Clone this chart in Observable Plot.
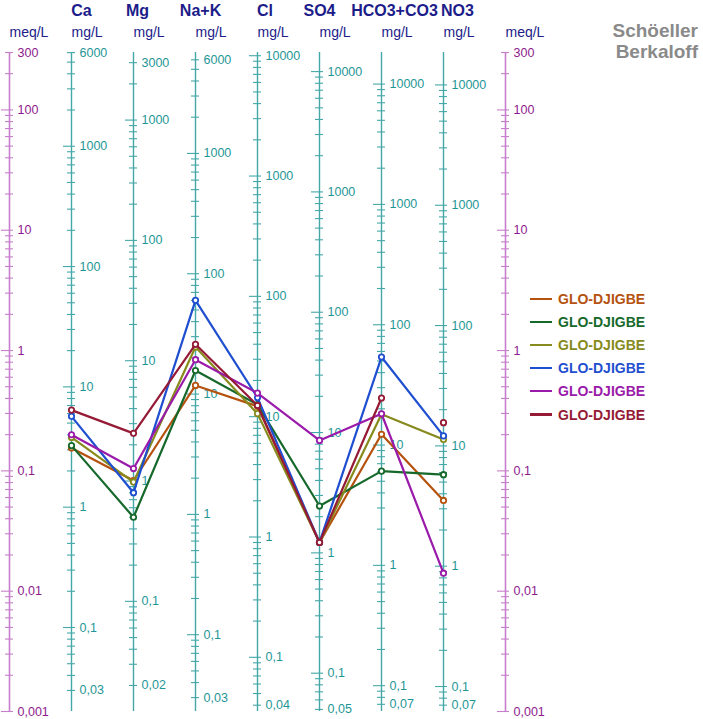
<!DOCTYPE html>
<html>
<head>
<meta charset="utf-8">
<script src="https://cdn.jsdelivr.net/npm/d3@7"></script>
<script src="https://cdn.jsdelivr.net/npm/@observablehq/plot@0.6"></script>
<style>
  html, body { margin: 0; padding: 0; background: #fff; }
  #wrap { position: relative; width: 703px; height: 719px; font-family: "Liberation Sans", Arial, sans-serif; }
  #wrap svg { display: block; }
  #title { position: absolute; right: 5px; top: 20px; text-align: right; color: #8a8a8a; font-weight: bold; font-size: 19px; line-height: 21px; }
  #legend { position: absolute; left: 530px; top: 287px; }
  .row { height: 23.2px; display: flex; align-items: center; }
  .sw { width: 22px; height: 2.2px; margin-right: 6px; }
  .lab { font-weight: bold; font-size: 14px; }
</style>
</head>
<body>
<div id="wrap"></div>
<script>
// ---------- data ----------
const ions = ["Ca", "Mg", "Na+K", "Cl", "SO4", "HCO3+CO3", "NO3"];
const eqWeights = [20.04, 12.15, 23.0, 35.45, 48.03, 61.02, 62.0];
const topLabels = [6000, 3000, 6000, 10000, 10000, 10000, 10000];
const bottomLabels = [0.03, 0.02, 0.03, 0.04, 0.05, 0.07, 0.07];
const meqLabels = [300, 100, 10, 1, 0.1, 0.01, 0.001];
const seriesNames = ["GLO-DJIGBE", "GLO-DJIGBE", "GLO-DJIGBE", "GLO-DJIGBE", "GLO-DJIGBE", "GLO-DJIGBE"];
const seriesColors = ["#b5520f", "#17692b", "#878a1c", "#1f4fd0", "#9a1aaa", "#951a35"];
// concentrations in mg/L, order of ions
const s1 = [3.1, 1.01, 11.8, 12.2, 1.22, 12.3, 3.52];
const s2 = [3.25, 0.50, 15.7, 12.6, 2.45, 6.07, 5.76];
const s3 = [3.8, 0.98, 24.6, 10.6, 1.22, 18.0, 11.3];
const s4 = [5.69, 0.80, 60.1, 14.4, 1.22, 53.9, 12.1];
const s5 = [4.0, 1.27, 19.3, 15.7, 8.6, 18.2, 0.875];
const s6 = [6.41, 2.49, 25.9, 12.4, 1.22, 24.6, 15.6];
const seriesValues = [s1, s2, s3, s4, s5, s6];
// points drawn without a connecting segment [series index, ion]
const unlinkedPoints = [[5, "NO3"]];

// ---------- derived ----------
const axisKeys = ["meqL", ...ions, "meqR"];
const MEQ_MIN = 0.001, MEQ_MAX = 300;
const fmt = v => String(+v.toPrecision(3)).replace(".", ",");

const ionTicks = [], ionLabels = [];
ions.forEach((ion, i) => {
  const eq = eqWeights[i];
  for (let k = -3; k <= 5; k++) for (let m = 1; m <= 9; m++) {
    const v = m * Math.pow(10, k), meq = v / eq;
    if (meq >= MEQ_MIN && meq <= MEQ_MAX * 1.001) ionTicks.push({key: ion, meq, major: m === 1});
  }
  const labs = new Set([topLabels[i], bottomLabels[i]]);
  for (let k = -3; k <= 5; k++) {
    const v = Math.pow(10, k), meq = v / eq;
    if (meq >= MEQ_MIN && meq <= MEQ_MAX) labs.add(v);
  }
  for (const v of labs) ionLabels.push({key: ion, meq: v / eq, text: fmt(v)});
});
const meqTicks = [], meqLabelData = [];
for (const key of ["meqL", "meqR"]) {
  for (let k = -3; k <= 2; k++) for (let m = 1; m <= 9; m++) {
    const v = m * Math.pow(10, k);
    if (v >= MEQ_MIN && v <= MEQ_MAX) meqTicks.push({key, meq: v, major: m === 1});
  }
  for (const v of meqLabels) meqLabelData.push({key, meq: v, text: fmt(v)});
}

const points = [];
seriesValues.forEach((vals, s) => vals.forEach((mg, i) => {
  points.push({s, ion: ions[i], meq: mg / eqWeights[i],
    linked: !unlinkedPoints.some(([ss, ion]) => ss === s && ion === ions[i])});
}));

const teal = "#45a8a8", tealText = "#1f9696", purpleLine = "#c77fc9", purpleText = "#8e1a8e", navy = "#1c1c8a";
const headerDx = {"Ca": 10, "Mg": 4, "Na+K": 5, "Cl": 7.5, "SO4": 0, "HCO3+CO3": 13, "NO3": 14};

const marks = [
  // axes
  Plot.ruleX(ions, {x: d => d, y1: MEQ_MIN, y2: MEQ_MAX, stroke: teal, strokeWidth: 1.4}),
  Plot.ruleX(["meqL", "meqR"], {x: d => d, y1: MEQ_MIN, y2: MEQ_MAX, stroke: purpleLine, strokeWidth: 1.6}),
  Plot.ruleY(ionTicks.filter(d => d.major), {y: "meq", x1: "key", x2: "key", stroke: teal, strokeWidth: 1.1, insetLeft: -8, insetRight: -4}),
  Plot.ruleY(ionTicks.filter(d => !d.major), {y: "meq", x1: "key", x2: "key", stroke: teal, strokeWidth: 1.1, insetLeft: -4, insetRight: -4}),
  Plot.ruleY(meqTicks.filter(d => d.major), {y: "meq", x1: "key", x2: "key", stroke: purpleLine, strokeWidth: 1.1, insetLeft: -8, insetRight: -4}),
  Plot.ruleY(meqTicks.filter(d => !d.major), {y: "meq", x1: "key", x2: "key", stroke: purpleLine, strokeWidth: 1.1, insetLeft: -4, insetRight: -4}),
  Plot.text(ionLabels, {x: "key", y: "meq", text: "text", textAnchor: "start", dx: 8, fill: tealText, fontSize: 12.5}),
  Plot.text(meqLabelData, {x: "key", y: "meq", text: "text", textAnchor: "start", dx: 8, fill: purpleText, fontSize: 12.5}),
  // unit headers
  Plot.text(axisKeys, {x: d => d, y: () => MEQ_MAX, text: d => d.startsWith("meq") ? "meq/L" : "mg/L",
    textAnchor: "start", dy: -15.5, lineAnchor: "bottom", fontSize: 14, fill: navy}),
  // ion name headers
  ...ions.map(ion => Plot.text([ion], {x: d => d, y: () => MEQ_MAX, text: d => d, dx: headerDx[ion], dy: -36.5,
    lineAnchor: "bottom", fontWeight: "bold", fontSize: 16, fill: navy}))
];
seriesValues.forEach((_, s) => {
  marks.push(Plot.line(points.filter(d => d.s === s && d.linked), {x: "ion", y: "meq", stroke: seriesColors[s], strokeWidth: 2.2}));
  marks.push(Plot.dot(points.filter(d => d.s === s), {x: "ion", y: "meq", r: 2.7, stroke: seriesColors[s], strokeWidth: 1.8, fill: "white"}));
});

const chart = Plot.plot({
  width: 703, height: 719,
  marginTop: 52, marginBottom: 8, marginLeft: 0, marginRight: 0,
  x: {type: "point", domain: axisKeys, range: [8, 506], padding: 0, axis: null},
  y: {type: "log", domain: [MEQ_MIN, MEQ_MAX], range: [711, 52], axis: null},
  style: {fontFamily: "'Liberation Sans', Arial, sans-serif", background: "white", overflow: "visible"},
  marks
});
const wrap = document.getElementById("wrap");
wrap.appendChild(chart);

const title = document.createElement("div");
title.id = "title";
title.innerHTML = "Schöeller<br>Berkaloff";
wrap.appendChild(title);

const legend = document.createElement("div");
legend.id = "legend";
seriesNames.forEach((name, s) => {
  const row = document.createElement("div");
  row.className = "row";
  row.innerHTML = `<span class="sw" style="background:${seriesColors[s]}"></span><span class="lab" style="color:${seriesColors[s]}">${name}</span>`;
  legend.appendChild(row);
});
wrap.appendChild(legend);
</script>
</body>
</html>
